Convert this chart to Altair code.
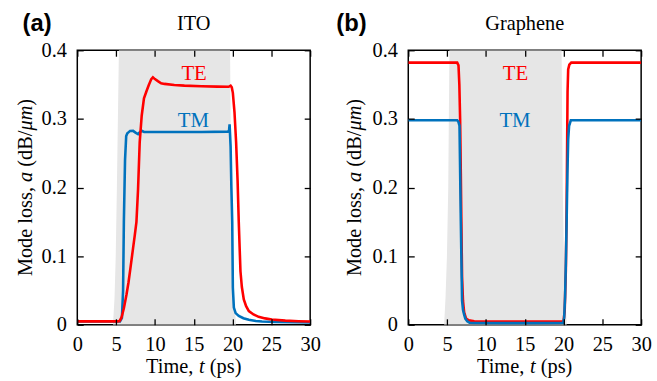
import altair as alt
import pandas as pd

# ---------------- data ----------------
time_ticks = [0, 5, 10, 15, 20, 25, 30]
loss_ticks = [0, 0.1, 0.2, 0.3, 0.4]

# pump-pulse window (gray band), panel (a)
ito_pulse_t = [4.6, 4.8, 4.95, 5.1, 5.36, 19.68, 19.83, 20.0, 20.2, 20.45]
ito_pulse_v = [0.0, 0.04, 0.1, 0.2, 0.4, 0.4, 0.2, 0.1, 0.04, 0.0]

# ITO, TE mode
ito_te_t = [0, 5.2, 5.45, 5.7, 6.0, 6.34, 6.6, 6.85, 7.19, 7.4, 7.62, 7.83, 8.04,
            8.3, 8.59, 8.9, 9.2, 9.53, 9.74, 10.0, 10.38, 10.8, 11.23, 12.5, 13.8,
            16.0, 18.0, 19.5, 19.75, 19.9, 20.04, 20.25, 20.46, 20.65, 20.8, 21.02,
            21.2, 21.45, 21.75, 22.1, 22.7, 23.36, 24.2, 25.06, 26.8, 28.5, 30]
ito_te_v = [0.005, 0.005, 0.0055, 0.0106, 0.024, 0.044, 0.062, 0.083, 0.112, 0.13,
            0.15, 0.198, 0.266, 0.305, 0.33, 0.34, 0.349, 0.358, 0.3606, 0.358,
            0.355, 0.352, 0.351, 0.3495, 0.3485, 0.3475, 0.347, 0.3468, 0.3485,
            0.346, 0.338, 0.31, 0.266, 0.21, 0.15, 0.078, 0.055, 0.037, 0.027,
            0.02, 0.015, 0.0116, 0.0093, 0.0077, 0.006, 0.0052, 0.0048]

# ITO, TM mode
ito_tm_t = [0, 5.5, 5.75, 5.9, 6.0, 6.15, 6.3, 6.45, 6.55, 6.8, 7.19, 7.5, 7.83,
            8.05, 8.3, 8.6, 8.9, 12.0, 16.0, 19.4, 19.55, 19.62, 19.67, 19.75,
            19.85, 19.96, 20.04, 20.17, 20.4, 20.8, 21.4, 22.1, 23.0, 23.8, 25.5, 30]
ito_tm_v = [0.005, 0.005, 0.01, 0.05, 0.15, 0.24, 0.275, 0.279, 0.28, 0.2825,
            0.2826, 0.28, 0.2777, 0.2805, 0.2826, 0.281, 0.281, 0.281, 0.281,
            0.2815, 0.283, 0.292, 0.28, 0.26, 0.2, 0.15, 0.054, 0.025, 0.017,
            0.013, 0.0095, 0.0072, 0.0055, 0.0048, 0.004, 0.0035]

# pump-pulse window, panel (b)
gr_pulse_t = [4.62, 4.8, 4.98, 5.15, 5.3, 19.75, 19.9, 20.05, 20.22, 20.42]
gr_pulse_v = [0.0, 0.04, 0.1, 0.2, 0.4, 0.4, 0.2, 0.1, 0.04, 0.0]

# Graphene, TE mode
gr_te_t = [0, 6.3, 6.47, 6.58, 6.68, 6.77, 6.84, 6.93, 7.05, 7.2, 7.45, 7.8, 8.5,
           12.0, 16.0, 20.0, 20.15, 20.3, 20.4, 20.47, 20.52, 20.6, 20.75, 21.0, 30]
gr_te_v = [0.382, 0.382, 0.378, 0.35, 0.3, 0.22, 0.15, 0.07, 0.035, 0.018, 0.009,
           0.0065, 0.005, 0.0048, 0.0048, 0.005, 0.02, 0.08, 0.17, 0.27, 0.34,
           0.372, 0.379, 0.382, 0.382]

# Graphene, TM mode
gr_tm_t = [0, 6.3, 6.45, 6.6, 6.77, 6.93, 7.05, 7.19, 7.35, 7.6, 7.9, 8.5, 12.0,
           16.0, 19.95, 20.08, 20.2, 20.3, 20.4, 20.5, 20.6, 20.72, 20.94, 30]
gr_tm_v = [0.298, 0.298, 0.296, 0.29, 0.15, 0.035, 0.022, 0.015, 0.009, 0.005,
           0.003, 0.0025, 0.0024, 0.0024, 0.0025, 0.01, 0.04, 0.09, 0.15, 0.22,
           0.27, 0.29, 0.298, 0.298]

# in-plot mode labels
mode_names = ["TE", "TM"]
ito_label_t = [15.05, 14.95]
ito_label_v = [0.365, 0.297]
gr_label_t = [13.8, 13.75]
gr_label_v = [0.365, 0.297]

# ---------------- style ----------------
RED = "#ff0000"
BLUE = "#0072bd"
PULSE = "#e6e6e6"
SERIF = "Liberation Serif"
SANS = "Liberation Sans"
W, H = 235, 277
FS = 20.5          # tick labels, axis titles, panel titles
LW = 2.6

# Times-compatible advance widths (em) used to lay out mixed roman/italic titles
ADV = {"M": .889, "o": .5, "d": .5, "e": .444, " ": .25, "l": .278, "s": .389,
       ",": .25, "(": .333, "B": .667, "/": .278, ")": .333, "T": .611,
       "i": .278, "m": .778, "p": .5}
ADV_IT = {"a": .5, "t": .278, "μ": .5, "m": .722}


def run_width(text, italic, size):
    table = ADV_IT if italic else ADV
    return sum(table.get(c, ADV.get(c, .5)) for c in text) * size


def lay_out(parts, size):
    """Offsets of each run along the text direction, centred on zero."""
    total = sum(run_width(t, it, size) for t, it in parts)
    out, pos = [], -total / 2
    for t, it in parts:
        lead = len(t) - len(t.lstrip(" "))
        out.append((t.strip(" "), it, pos + lead * ADV[" "] * size))
        pos += run_width(t, it, size)
    return out


def text_layer(text, x, y, **mark):
    return alt.Chart(pd.DataFrame({"s": [text]})).mark_text(**mark).encode(
        text="s:N", x=alt.value(x), y=alt.value(y))


X_TITLE = [("Time, ", False), ("t", True), (" (ps)", False)]
Y_TITLE = [("Mode loss, ", False), ("a", True), (" (dB/", False), ("μm", True), (")", False)]

tick_style = dict(domain=False, grid=False, ticks=True, tickSize=6, offset=-6,
                  tickColor="black", tickWidth=1.3, zindex=1, title=None)
label_style = dict(labelFont=SERIF, labelFontSize=FS, labelColor="black",
                   labelFlush=False, labelOverlap=False)

x_scale = alt.Scale(domain=[0, 30], nice=False, zero=False)
y_scale = alt.Scale(domain=[0, 0.4], nice=False, zero=False)


def panel(pulse_t, pulse_v, te_t, te_v, tm_t, tm_v, lab_t, lab_v,
          title, tag, tag_x, ytitle_x, tm_on_top):
    pulse = pd.DataFrame({"t": pulse_t, "v": pulse_v})
    te = pd.DataFrame({"t": te_t, "v": te_v})
    tm = pd.DataFrame({"t": tm_t, "v": tm_v})
    labels = pd.DataFrame({"t": lab_t, "v": lab_v, "s": mode_names, "c": [RED, BLUE]})

    band = alt.Chart(pulse).mark_area(color=PULSE, opacity=1, clip=True).encode(
        x=alt.X("t:Q", scale=x_scale,
                axis=alt.Axis(orient="bottom", values=time_ticks, labelPadding=10,
                              **label_style, **tick_style)),
        y=alt.Y("v:Q", scale=y_scale,
                axis=alt.Axis(orient="left", values=loss_ticks, format=".1~f",
                              labelPadding=11, **label_style, **tick_style)),
    )

    # mirrored tick marks on the top and right edges
    mirror = dict(
        x=alt.X("t:Q", scale=x_scale,
                axis=alt.Axis(orient="top", values=time_ticks, labels=False, **tick_style)),
        y=alt.Y("v:Q", scale=y_scale,
                axis=alt.Axis(orient="right", values=loss_ticks, labels=False, **tick_style)),
    )
    plain = dict(x=alt.X("t:Q", scale=x_scale, axis=None),
                 y=alt.Y("v:Q", scale=y_scale, axis=None))

    te_line = alt.Chart(te).mark_line(color=RED, strokeWidth=LW, clip=True)
    tm_line = alt.Chart(tm).mark_line(color=BLUE, strokeWidth=LW, clip=True)
    if tm_on_top:
        lines = [te_line.encode(**mirror), tm_line.encode(**plain)]
    else:
        lines = [tm_line.encode(**mirror), te_line.encode(**plain)]

    mode_text = alt.Chart(labels).mark_text(font=SERIF, fontSize=21, baseline="middle").encode(
        x=alt.X("t:Q", scale=x_scale, axis=None),
        y=alt.Y("v:Q", scale=y_scale, axis=None),
        text="s:N",
        color=alt.Color("c:N", scale=None),
    )

    extras = [
        text_layer(title, W / 2, -20, font=SERIF, fontSize=FS, align="center",
                   baseline="alphabetic", color="black"),
        text_layer(tag, tag_x, -19.7, font=SANS, fontSize=24, fontWeight="bold",
                   align="left", baseline="alphabetic", color="black"),
    ]
    for txt, it, off in lay_out(X_TITLE, FS):
        extras.append(text_layer(txt, W / 2 + off, 325.5, font=SERIF, fontSize=FS,
                                 fontStyle="italic" if it else "normal",
                                 align="left", baseline="alphabetic", color="black"))
    for txt, it, off in lay_out(Y_TITLE, FS):
        extras.append(text_layer(txt, ytitle_x, H / 2 - off, font=SERIF, fontSize=FS,
                                 fontStyle="italic" if it else "normal", angle=270,
                                 align="left", baseline="alphabetic", color="black"))

    return alt.layer(band, *lines, mode_text, *extras).resolve_axis(
        x="independent", y="independent").properties(width=W, height=H)


panel_a = panel(ito_pulse_t, ito_pulse_v, ito_te_t, ito_te_v, ito_tm_t, ito_tm_v,
                ito_label_t, ito_label_v, "ITO", "(a)", -55.3, -45.5, False)
panel_b = panel(gr_pulse_t, gr_pulse_v, gr_te_t, gr_te_v, gr_tm_t, gr_tm_v,
                gr_label_t, gr_label_v, "Graphene", "(b)", -72.7, -47.5, True)

chart = alt.hconcat(panel_a, panel_b, spacing=99, bounds="flush").properties(
    padding={"left": 15, "top": 9, "right": 5, "bottom": 0},
    background="white",
).configure_view(stroke="black", strokeWidth=1.5)

chart.save("out.html", embed_options={"renderer": "svg", "actions": False})
